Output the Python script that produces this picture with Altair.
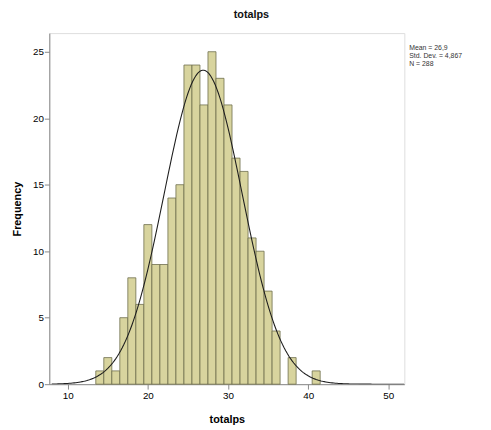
import altair as alt
import pandas as pd

# ---- data ----
values = [14, 15, 16, 17, 18, 19, 20, 21, 22, 23, 24, 25, 26, 27, 28, 29, 30,
          31, 32, 33, 34, 35, 36, 38, 41]
counts = [1, 2, 1, 5, 8, 6, 12, 9, 9, 14, 15, 24, 24, 21, 25, 23, 21,
          17, 16, 11, 10, 7, 4, 2, 1]
MEAN = 26.9
SD = 4.867
N = 288
BIN = 1
x_ticks = [10, 20, 30, 40, 50]
y_ticks = [0, 5, 10, 15, 20, 25]
stats_text = "Mean = 26,9\nStd. Dev. = 4,867\nN = 288"

df = pd.DataFrame({"value": values, "count": counts})
df["lo"] = df["value"] - BIN / 2
df["hi"] = df["value"] + BIN / 2

FONT = "Liberation Sans"
W, H = 361, 357

xs = alt.Scale(domain=[7.7, 52], nice=False, zero=False)
ys = alt.Scale(domain=[0, 26.4], nice=False)

x_axis = alt.Axis(values=x_ticks, title="totalps", grid=False, tickSize=5,
                  labelPadding=2, titlePadding=13, format="d")
y_axis = alt.Axis(values=y_ticks, title="Frequency", grid=False, tickSize=5,
                  labelPadding=1, titleX=-27, format="d")

bars = alt.Chart(df).mark_bar(
    fill="#d8d49e", stroke="#6e6e4c", strokeWidth=0.8
).encode(
    x=alt.X("lo:Q", scale=xs, axis=x_axis),
    x2="hi:Q",
    y=alt.Y("count:Q", scale=ys, axis=y_axis),
    y2=alt.datum(0),
)

curve = alt.Chart(alt.sequence(8, 52.01, 0.2, as_="x")).transform_calculate(
    f=f"{N}*{BIN}*exp(-0.5*pow((datum.x-{MEAN})/{SD},2))/({SD}*sqrt(2*PI))"
).mark_line(color="#1e1e1e", strokeWidth=1.1, clip=True).encode(
    x=alt.X("x:Q", scale=xs),
    y=alt.Y("f:Q", scale=ys),
)

stats = alt.Chart(pd.DataFrame({"t": [stats_text]})).mark_text(
    align="left", baseline="middle", fontSize=7, lineHeight=8,
    lineBreak="\n", font=FONT, color="#333333"
).encode(
    x=alt.value(W + 5), y=alt.value(15), text="t:N"
)

chart = alt.layer(bars, curve, stats).properties(
    width=W, height=H,
    title=alt.TitleParams("totalps", fontSize=11, font=FONT, fontWeight="bold",
                          anchor="middle", dx=25, offset=13, color="#111111"),
    autosize=alt.AutoSizeParams(type="none"),
    padding={"left": 42, "top": 22, "right": 80, "bottom": 40},
).configure_view(
    fill="#ececec", stroke="#8c8c8c", strokeWidth=1
).configure_axis(
    domainColor="#777777", tickColor="#777777", labelColor="#555555",
    labelFont=FONT, labelFontSize=8, titleFont=FONT, titleFontSize=10,
    titleFontWeight="bold", titleColor="#111111"
).configure(background="white")

chart.save("out.html", embed_options={"renderer": "svg", "actions": False})
